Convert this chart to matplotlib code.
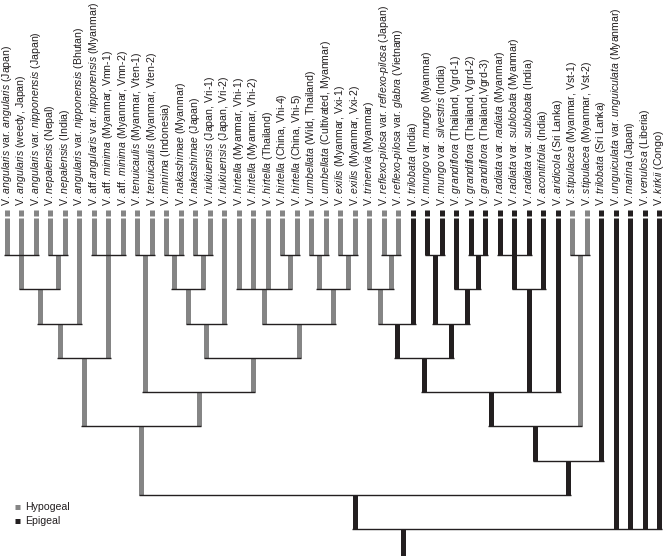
import matplotlib
matplotlib.use("Agg")
import matplotlib.pyplot as plt

plt.rcParams['font.family'] = ['Liberation Sans', 'DejaVu Sans']
plt.rcParams['mathtext.fontset'] = 'custom'
plt.rcParams['mathtext.rm'] = 'Liberation Sans'
plt.rcParams['mathtext.it'] = 'Liberation Sans:italic'

# ---------------- data ----------------
labels = [
    r"V. $\mathit{angularis}$ var. $\mathit{angularis}$ (Japan)",
    r"V. $\mathit{angularis}$ (weedy, Japan)",
    r"V. $\mathit{angularis}$ var. $\mathit{nipponensis}$ (Japan)",
    r"V. $\mathit{nepalensis}$ (Nepal)",
    r"V. $\mathit{nepalensis}$ (India)",
    r"V. $\mathit{angularis}$ var. $\mathit{nipponensis}$ (Bhutan)",
    r"V. aff.$\mathit{angularis}$ var. $\mathit{nipponensis}$ (Myanmar)",
    r"V. aff. $\mathit{minima}$ (Myanmar, Vmn-1)",
    r"V. aff. $\mathit{minima}$ (Myanmar, Vmn-2)",
    r"V. $\mathit{tenuicaulis}$ (Myanmar, Vten-1)",
    r"V. $\mathit{tenuicaulis}$ (Myanmar, Vten-2)",
    r"V. $\mathit{minima}$ (Indonesia)",
    r"V. $\mathit{nakashimae}$ (Myanmar)",
    r"V. $\mathit{nakashimae}$ (Japan)",
    r"V. $\mathit{riukiuensis}$ (Japan, Vri-1)",
    r"V. $\mathit{riukiuensis}$ (Japan, Vri-2)",
    r"V. $\mathit{hirtella}$ (Myanmar, Vhi-1)",
    r"V. $\mathit{hirtella}$ (Myanmar, Vhi-2)",
    r"V. $\mathit{hirtella}$ (Thailand)",
    r"V. $\mathit{hirtella}$ (China, Vhi-4)",
    r"V. $\mathit{hirtella}$ (China, Vhi-5)",
    r"V. $\mathit{umbellata}$ (Wild, Thailand)",
    r"V. $\mathit{umbellata}$ (Cultivated, Myanmar)",
    r"V. $\mathit{exilis}$ (Myanmar, Vxi-1)",
    r"V. $\mathit{exilis}$ (Myanmar, Vxi-2)",
    r"V. $\mathit{trinervia}$ (Myanmar)",
    r"V. $\mathit{reflexo}$-$\mathit{pilosa}$ var. $\mathit{reflexo}$-$\mathit{pilosa}$ (Japan)",
    r"V. $\mathit{reflexo}$-$\mathit{pilosa}$ var. $\mathit{glabra}$ (Vietnam)",
    r"V. $\mathit{trilobata}$ (India)",
    r"V. $\mathit{mungo}$ var. $\mathit{mungo}$ (Myanmar)",
    r"V. $\mathit{mungo}$ var. $\mathit{silvestris}$ (India)",
    r"V. $\mathit{grandiflora}$ (Thailand, Vgrd-1)",
    r"V. $\mathit{grandiflora}$ (Thailand, Vgrd-2)",
    r"V. $\mathit{grandiflora}$ (Thailand,Vgrd-3)",
    r"V. $\mathit{radiata}$ var. $\mathit{radiata}$ (Myanmar)",
    r"V. $\mathit{radiata}$ var. $\mathit{sublobata}$ (Myanmar)",
    r"V. $\mathit{radiata}$ var. $\mathit{sublobata}$ (India)",
    r"V. $\mathit{aconitifolia}$ (India)",
    r"V. $\mathit{aridicola}$ (Sri Lanka)",
    r"V. $\mathit{stipulacea}$ (Myanmar, Vst-1)",
    r"V. $\mathit{stipulacea}$ (Myanmar, Vst-2)",
    r"V. $\mathit{trilobata}$ (Sri Lanka)",
    r"V. $\mathit{unguiculata}$ var. $\mathit{unguiculata}$ (Myanmar)",
    r"V. $\mathit{marina}$ (Japan)",
    r"V. $\mathit{venulosa}$ (Liberia)",
    r"V. $\mathit{kirkii}$ (Congo)",
]

# H = hypogeal, E = epigeal
leaf_state = "H" * 28 + "E" * 11 + "HH" + "E" * 5

# merges: leaf numbers (1-based ints) or earlier merge names (str)
merge_names = ["A", "B", "C", "D", "E1", "F", "G", "Hc", "I", "J", "K", "L", "M", "N",
               "AB", "EF", "HIR", "UX", "TJ", "GL", "M38",
               "AB6", "EF16", "HU", "TJ29", "KGL",
               "ABC", "EFH", "X",
               "DEFH", "Y",
               "HYPO", "Z",
               "Z42",
               "BIG",
               "ROOT"]
merge_levels = [1] * 14 + [2] * 7 + [3] * 5 + [4] * 3 + [5] * 2 + [6] * 2 + [7] + [8] + [9]
merge_children = [
    [1, 2, 3], [4, 5], [7, 8, 9], [10, 11], [12, 13], [14, 15], [20, 21], [22, 23],
    [24, 25], [27, 28], [30, 31], [33, 34], [35, 36, 37], [40, 41],
    ["A", "B"], ["E1", "F"], [17, 18, 19, "G"], ["Hc", "I"], [26, "J"], [32, "L"], ["M", 38],
    ["AB", 6], ["EF", 16], ["HIR", "UX"], ["TJ", 29], ["K", "GL"],
    ["AB6", "C"], ["EF16", "HU"], ["TJ29", "KGL"],
    ["D", "EFH"], ["X", "M38", 39],
    ["ABC", "DEFH"], ["Y", "N"],
    ["Z", 42],
    ["HYPO", "Z42"],
    ["BIG", 43, 44, 45, 46],
]
merge_state = "HHHHHHHHHHEEEH" + "HHHHHEE" + "HHHEE" + "HHE" + "HE" + "HE" + "E" + "E" + "E"

legend_names = ["Hypogeal", "Epigeal"]

# ---------------- style ----------------
colors = {"H": "#858585", "E": "#231f20"}
line_dark = "#231f20"
W, H, DPI = 666, 556, 100
x0_px, dx_px = 7.0, 14.5           # first leaf position / leaf spacing (px)
lvl1_px, dl_px = 255.0, 34.25      # first merge level / level spacing (px)
bar_w = 5.0 * 72 / DPI             # pt

def px2lvl(py):
    return 1 + (py - lvl1_px) / dl_px

fig = plt.figure(figsize=(W / DPI, H / DPI), dpi=DPI)
ax = fig.add_axes([0, 0, 1, 1])
ax.set_xlim(-x0_px / dx_px, (W - x0_px) / dx_px)
ax.set_ylim(px2lvl(H), px2lvl(0))
ax.axis("off")

# positions
pos = {}
state = {}
level = {}
for i in range(len(labels)):
    pos[i + 1] = float(i)
    state[i + 1] = leaf_state[i]
    level[i + 1] = px2lvl(218)
for name, lv, ch, st in zip(merge_names, merge_levels, merge_children, merge_state):
    xs = [pos[c] for c in ch]
    pos[name] = (min(xs) + max(xs)) / 2
    state[name] = st
    level[name] = lv

# root stem: centred under the span of the whole drawn tree
pos_root_stem = (pos["HYPO"] + pos[len(labels)]) / 2 + 0.15

# draw branches
for name, lv, ch in zip(merge_names, merge_levels, merge_children):
    for c in ch:
        ax.plot([pos[c], pos[c]], [level[c], lv], color=colors[state[c]],
                lw=bar_w, solid_capstyle="butt", zorder=2)
    xs = [pos[c] for c in ch]
    pad = 2.6 / dx_px
    ax.plot([min(xs) - pad, max(xs) + pad], [lv, lv], color=line_dark, lw=1.0,
            solid_capstyle="butt", zorder=3)
ax.plot([pos_root_stem, pos_root_stem], [merge_levels[-1], px2lvl(H + 2)],
        color=colors[merge_state[-1]], lw=bar_w, solid_capstyle="butt", zorder=2)

# leaf tips (small squares) and labels
for i, lab in enumerate(labels):
    ax.plot([i, i], [px2lvl(209.5), px2lvl(215.5)], color=colors[leaf_state[i]],
            lw=bar_w, solid_capstyle="butt", zorder=2)
    ax.text(i, px2lvl(206), lab, rotation=90, ha="center", va="bottom",
            fontsize=7.6, color="#231f20")

# legend
leg_y = [px2lvl(507), px2lvl(521)]
for nm, st, yy in zip(legend_names, ["H", "E"], leg_y):
    ax.plot([(15 - x0_px) / dx_px, (20 - x0_px) / dx_px], [yy, yy], color=colors[st],
            lw=5.0 * 72 / DPI, solid_capstyle="butt")
    ax.text((25 - x0_px) / dx_px, yy, nm, ha="left", va="center", fontsize=7.6,
            color="#231f20")

fig.savefig("out.png", dpi=DPI, facecolor="white")
